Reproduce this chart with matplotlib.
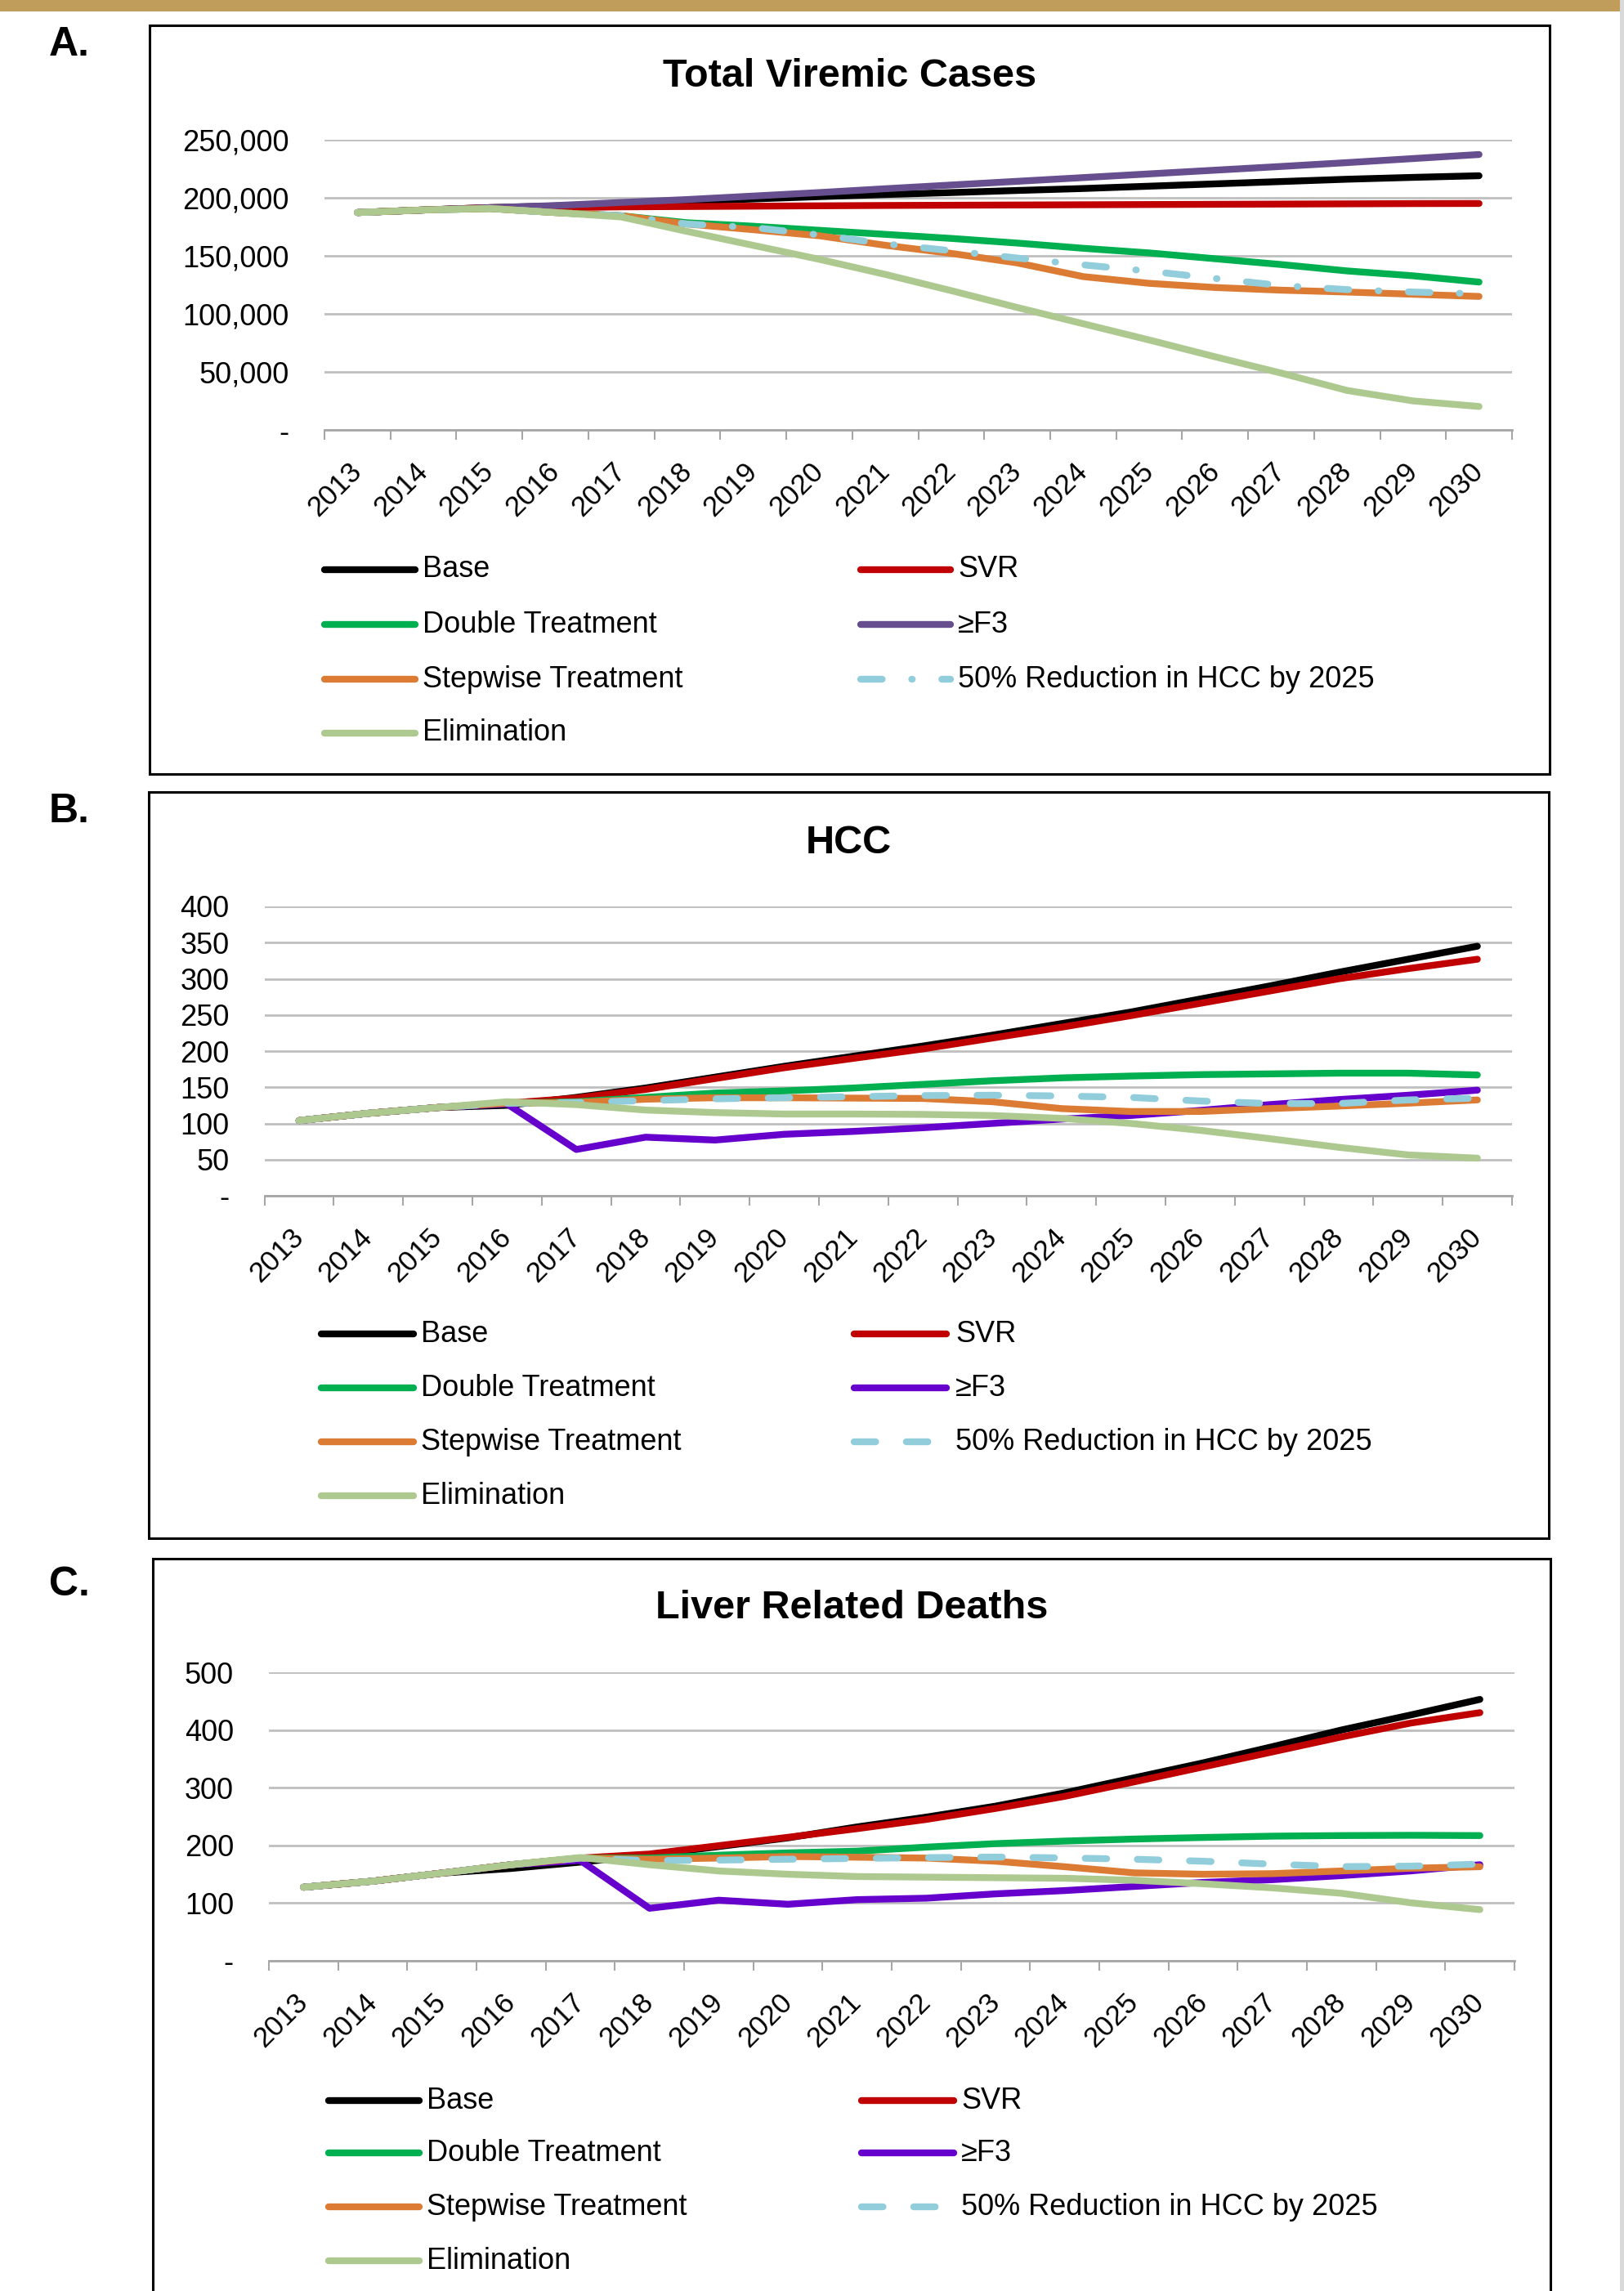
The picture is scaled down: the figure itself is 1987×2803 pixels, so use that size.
import matplotlib
matplotlib.use("Agg")
import matplotlib.pyplot as plt
from matplotlib.lines import Line2D
from matplotlib.patches import Rectangle
from matplotlib.ticker import FuncFormatter

plt.rcParams['font.family'] = ['Liberation Sans', 'DejaVu Sans']
plt.rcParams['lines.scale_dashes'] = False

W, H = 1987, 2803

years = [str(y) for y in range(2013, 2031)]
scenarios = ["Base", "SVR", "Double Treatment", "\u2265F3", "Stepwise Treatment",
             "50% Reduction in HCC by 2025", "Elimination"]

# A. Total viremic cases
viremic_base = [187300, 189500, 191500, 193000, 195000, 197000, 199000, 201000, 202800,
                204500, 206300, 208000, 210000, 212000, 214000, 216000, 217600, 219000]
viremic_svr = [187300, 189500, 191500, 191500, 192200, 192500, 192800, 193100, 193400,
               193600, 193800, 194000, 194200, 194400, 194600, 194800, 195000, 195100]
viremic_double = [187300, 189500, 190800, 187300, 184500, 178500, 175500, 172000, 168500,
                  165000, 161000, 156500, 152500, 147500, 142500, 137000, 132800, 127400]
viremic_f3 = [187300, 189500, 191500, 193300, 196000, 198500, 201500, 204500, 207800,
              211000, 214200, 217400, 220600, 223800, 227000, 230300, 233800, 237300]
viremic_stepwise = [187300, 189500, 190800, 187300, 184500, 177400, 172500, 167300, 159100,
                    152100, 143900, 132100, 126300, 122700, 120400, 118800, 116900, 115000]
viremic_hcc50 = [187300, 189500, 190800, 187300, 184500, 177400, 174400, 168000, 160300,
                 154400, 148100, 142200, 136800, 130500, 124400, 120900, 118800, 117300]
viremic_elim = [187300, 189500, 190800, 187300, 183500, 171000, 159000, 147000, 134000,
                120000, 105500, 91500, 77500, 63000, 49000, 34000, 25000, 20200]

# B. HCC
hcc_base = [104, 114, 122, 125, 136, 149, 164, 179, 193, 207, 222, 238, 254, 272, 290, 309, 327, 345]
hcc_svr = [104, 114, 122, 128, 135, 147, 162, 177, 190, 203, 218, 233, 249, 266, 283, 300, 314, 327]
hcc_double = [104, 114, 122, 128, 130, 136, 142, 145, 149, 154, 159, 163, 165.5, 167.5, 168.5,
              169.5, 169.5, 167]
hcc_f3 = [104, 114, 122, 127, 64, 81, 77, 85, 89, 94, 100, 106, 111, 118, 126, 133, 139, 146]
hcc_stepwise = [104, 114, 122, 128, 129, 133.5, 135.5, 135.5, 135, 134.5, 130, 120.5, 116.5,
                116.5, 120.5, 124, 128, 132.5]
hcc_hcc50 = [104, 114, 122, 128, 129, 131.5, 134, 135.5, 137, 138.5, 139, 138, 136, 131,
             127.5, 127.5, 132.5, 135]
hcc_elim = [104, 114, 122, 130, 126, 118.5, 115, 113, 113, 112.5, 111, 107, 100, 90.5, 79,
            67, 56.5, 52]

# C. Liver related deaths
lrd_base = [127.5, 138, 152, 160, 171, 183, 198, 213, 232, 249, 268, 291, 317, 343, 371,
            400, 426, 453]
lrd_svr = [127.5, 138, 152, 166.5, 178, 185, 199.5, 214, 229, 245, 264, 285, 310, 336, 362,
           388, 412, 430]
lrd_double = [127.5, 138, 152, 166.5, 178, 178, 183, 187, 190, 197, 203, 207.5, 211, 213.7,
              216, 217, 217.5, 217]
lrd_f3 = [127.5, 138, 152, 166.5, 174, 91, 105, 98, 106, 108.5, 116, 121.7, 128.8, 135.8,
          140.6, 147.6, 155.7, 166.5]
lrd_stepwise = [127.5, 138, 152, 166.5, 178, 176, 178, 180.7, 179.5, 178, 172.6, 163, 152.4,
                150, 151, 155.7, 160.4, 163]
lrd_hcc50 = [127.5, 138, 152, 166.5, 178, 173.6, 174.5, 176, 177.4, 178.8, 179.7, 178.3, 176,
             172.6, 167.5, 163.2, 164, 167.5]
lrd_elim = [127.5, 138, 152, 166.5, 179, 166.5, 155.7, 150, 146, 145, 144, 143, 139.6, 133.5,
            126.4, 117, 100.5, 88.7]

BLUE_DASHDOT = (0, (19, 26, 0.5, 26))
BLUE_DASH = (0, (19, 27))


def fx(px):
    return px / W


def fy(py):
    return 1 - py / H


def y_fmt(v, pos):
    return "-" if v == 0 else f"{v:,.0f}"


def draw_panel(fig, letter, letter_y, title, title_y, box, plot, ymax, ystep, series,
               f3_color, blue_style, rows, left_leg, right_leg):
    # panel frame
    bl, bt, br, bb = box
    fig.add_artist(Rectangle((fx(bl), fy(bb)), fx(br - bl), (bb - bt) / H, fill=False,
                             edgecolor="black", lw=2.2, transform=fig.transFigure))
    fig.text(fx(60), fy(letter_y), letter, ha="left", va="center", fontsize=36,
             fontweight="bold")
    fig.text(fx((bl + br) / 2), fy(title_y), title, ha="center", va="center", fontsize=35,
             fontweight="bold")

    pl, pt, pr, pb = plot
    ax = fig.add_axes([fx(pl), fy(pb), fx(pr - pl), (pb - pt) / H])
    colors = ["#000000", "#C00000", "#00B050", f3_color, "#DC7C34", "#92CDDC", "#ADC990"]
    styles = ["-", "-", "-", "-", "-", blue_style, "-"]
    x = range(len(years))
    for vals, c, ls in zip(series, colors, styles):
        ax.plot(x, vals, color=c, lw=6, ls=ls, solid_capstyle="round",
                solid_joinstyle="round", dash_capstyle="round")

    ax.set_xlim(-0.5, len(years) - 0.5)
    ax.set_ylim(0, ymax)
    ax.set_yticks(range(0, ymax + 1, ystep))
    ax.yaxis.set_major_formatter(FuncFormatter(y_fmt))
    ax.yaxis.grid(True, color="#BFBFBF", lw=2)
    ax.set_axisbelow(True)
    ax.tick_params(axis="y", length=0, pad=31, labelsize=26)

    ax.set_xticks(list(x))
    ax.set_xticklabels(years, rotation=45, ha="right", va="center", rotation_mode="anchor")
    ax.set_xticks([i - 0.5 for i in range(len(years) + 1)], minor=True)
    ax.tick_params(axis="x", which="major", length=0, pad=33, labelsize=25)
    ax.tick_params(axis="x", which="minor", length=8.5, width=1.5, color="#A6A6A6")
    for side in ["top", "right", "left"]:
        ax.spines[side].set_visible(False)
    ax.spines["bottom"].set_color("#A6A6A6")
    ax.spines["bottom"].set_linewidth(2)

    # legend, Excel-style two columns
    left_items = [0, 2, 4, 6]
    right_items = [1, 3, 5]
    for items, (x0, x1, xt) in [(left_items, left_leg), (right_items, right_leg)]:
        for r, idx in enumerate(items):
            yy = fy(rows[r])
            fig.add_artist(Line2D([fx(x0), fx(x1)], [yy, yy], color=colors[idx], lw=6,
                                  ls=styles[idx], solid_capstyle="round",
                                  dash_capstyle="round", transform=fig.transFigure))
            fig.text(fx(xt), yy, scenarios[idx], ha="left", va="center", fontsize=26)
    return ax


fig = plt.figure(figsize=(W / 100, H / 100), dpi=100)

# top gold bar and right edge strip
fig.add_artist(Rectangle((0, fy(14)), 1, 14 / H, color="#C19D5C", lw=0,
                         transform=fig.transFigure))
fig.add_artist(Rectangle((fx(1982), 0), fx(5), 1, color="#D9D9D9", lw=0,
                         transform=fig.transFigure))

draw_panel(fig, "A.", 55, "Total Viremic Cases", 93, (183, 31, 1896, 947),
           (397, 171, 1850, 526), 250000, 50000,
           [viremic_base, viremic_svr, viremic_double, viremic_f3, viremic_stepwise,
            viremic_hcc50, viremic_elim],
           "#674E8E", BLUE_DASHDOT, [697, 764, 831, 897], (397, 508, 517), (1053, 1163, 1172))

draw_panel(fig, "B.", 993, "HCC", 1031, (182, 969, 1895, 1882),
           (323.5, 1109, 1850, 1463), 400, 50,
           [hcc_base, hcc_svr, hcc_double, hcc_f3, hcc_stepwise, hcc_hcc50, hcc_elim],
           "#6600CC", BLUE_DASH, [1632, 1698, 1764, 1830], (393, 506, 515), (1045, 1158, 1169))

draw_panel(fig, "C.", 1939, "Liver Related Deaths", 1967, (187, 1907, 1897, 2830),
           (329, 2046, 1853, 2399), 500, 100,
           [lrd_base, lrd_svr, lrd_double, lrd_f3, lrd_stepwise, lrd_hcc50, lrd_elim],
           "#6600CC", BLUE_DASH, [2570, 2634, 2700, 2766], (402, 513, 522), (1054, 1167, 1176))

fig.savefig("out.png", dpi=100)
